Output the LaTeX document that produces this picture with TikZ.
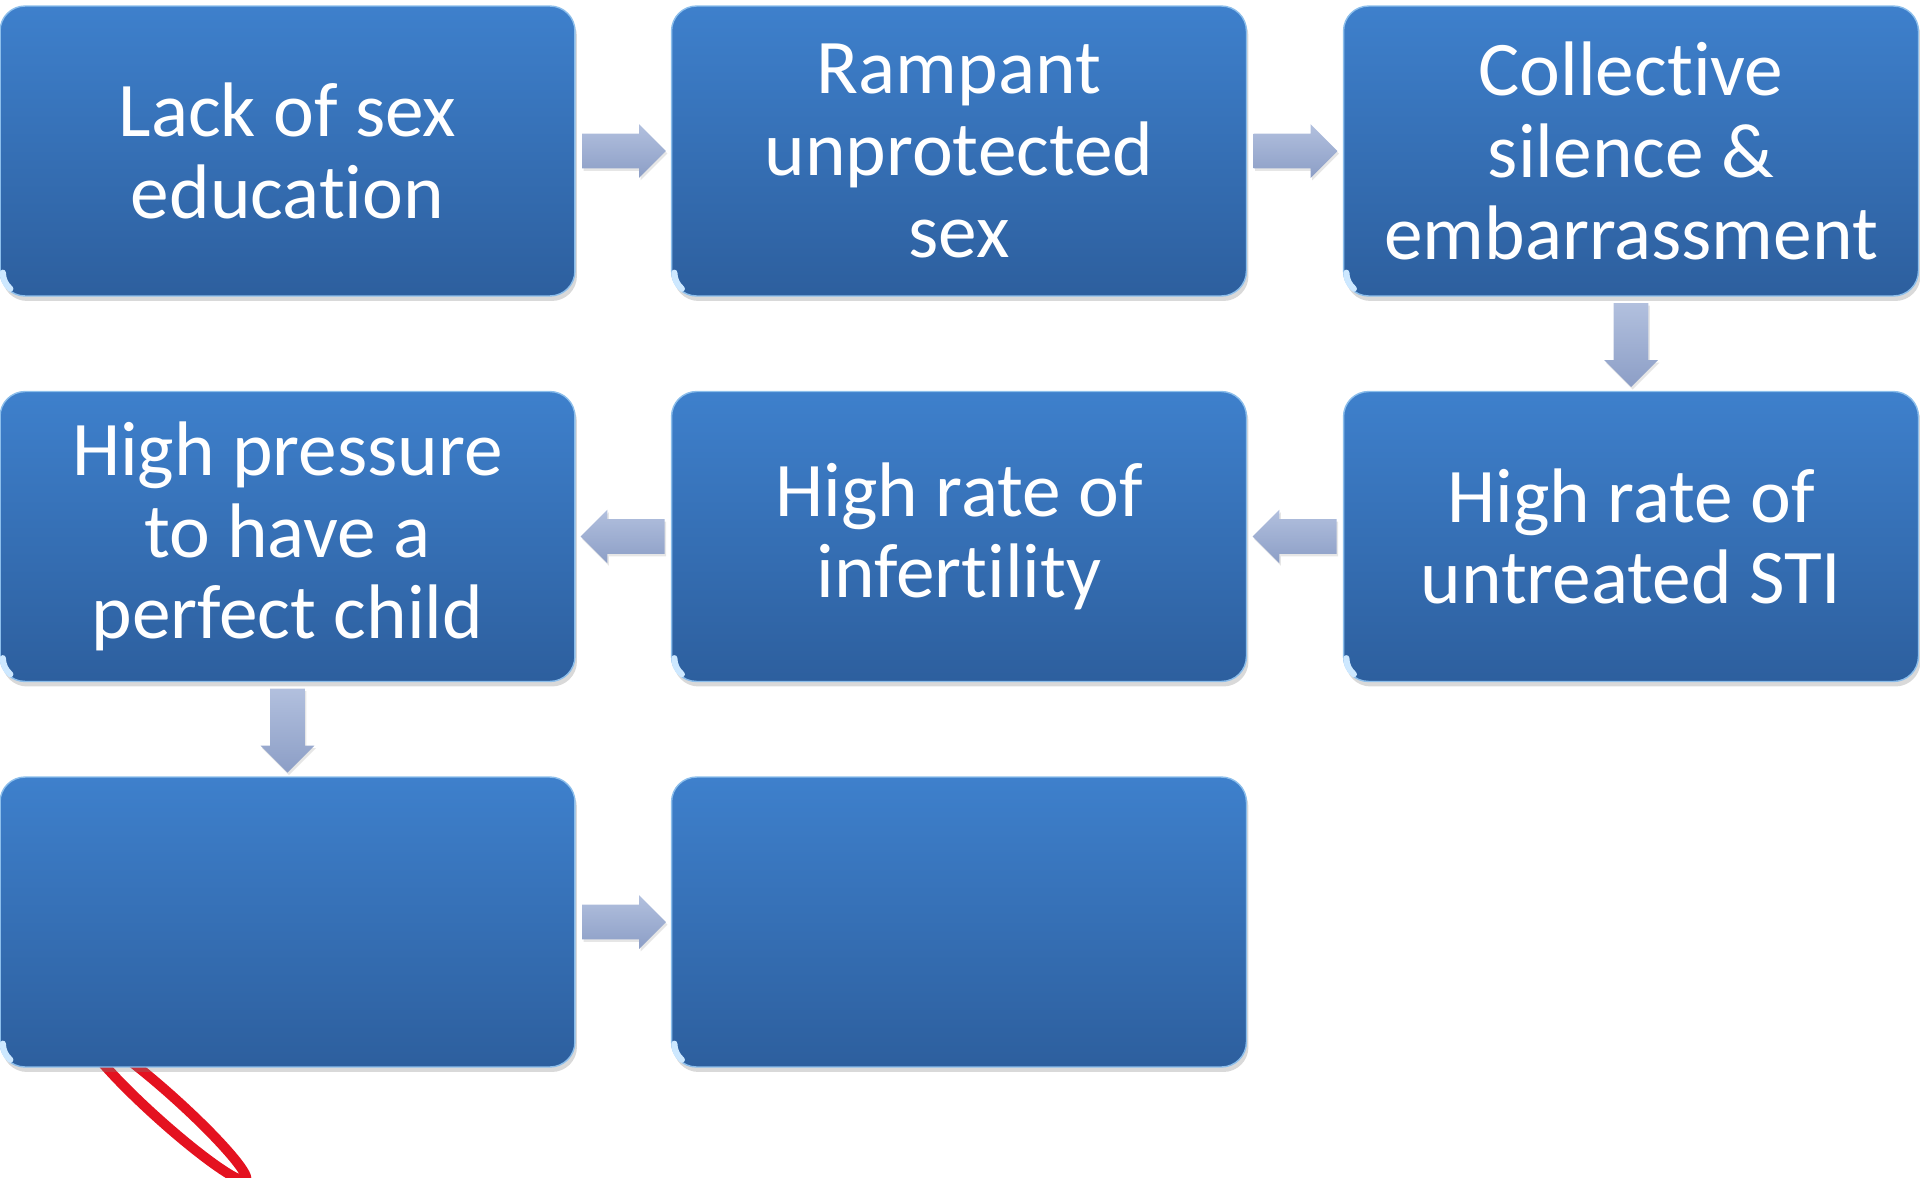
\documentclass[tikz,border=0pt]{standalone}
\usepackage{fontspec}
\setmainfont{Carlito}[Ligatures=NoCommon]
\usetikzlibrary{shapes.arrows,shadows,calc}
\definecolor{boxtop}{RGB}{62,128,204}
\definecolor{boxbot}{RGB}{45,95,158}
\definecolor{boxedge}{RGB}{140,190,235}
\definecolor{glintcol}{RGB}{205,232,255}
\definecolor{arrowtop}{RGB}{178,192,222}
\definecolor{arrowbot}{RGB}{140,158,198}
\definecolor{loopred}{RGB}{228,18,32}
\tikzset{
  flowbox/.style={rectangle, rounded corners=0.5cm, minimum width=11.5cm,
    minimum height=5.8cm, top color=boxtop, bottom color=boxbot,
    draw=boxedge, line width=0.8pt,
    drop shadow={opacity=0.3, shadow xshift=0.04cm, shadow yshift=-0.1cm},
    text=white, align=center, inner sep=0pt,
    font=\fontsize{44}{46.5}\selectfont},
  flowarrow/.style={single arrow, draw=none, top color=arrowtop, bottom color=arrowbot,
    minimum height=1.68cm, minimum width=1.06cm, anchor=tail,
    single arrow head extend=0.19cm, inner xsep=0pt, inner ysep=0.34cm,
    drop shadow={opacity=0.2, shadow xshift=0.03cm, shadow yshift=-0.05cm}},
  glint/.style={draw=glintcol, line width=3.5pt, line cap=round},
  redloop/.style={draw=loopred, line width=0.2cm}
}
\begin{document}
\begin{tikzpicture}[x=0.02cm,y=-0.02cm]
\useasboundingbox (0,0) rectangle (1920,1177);
% red loop (behind boxes)
\draw[redloop] (166,1108) ellipse [x radius=2.15cm, y radius=0.26cm, rotate=-42];
% boxes
\node[flowbox] (b1) at (287.5,151) {Lack of sex\\education};
\node[flowbox] (b2) at (959,151) {Rampant\\unprotected\\sex};
\node[flowbox] (b3) at (1631,151) {Collective\\silence \&\\embarrassment};
\node[flowbox] (b4) at (1631,536.5) {High rate of\\untreated STI};
\node[flowbox] (b5) at (959,536.5) {High rate of\\infertility};
\node[flowbox] (b6) at (287.5,536.5) {High pressure\\to have a\\perfect child};
\node[flowbox] (b7) at (287.5,922) {};
\node[flowbox] (b8) at (959,922) {};
% corner glints
\foreach \b in {b1,b2,b3,b4,b5,b6,b7,b8}
  \draw[glint] ($(\b.south west)+(3.5,-24)$) arc[start angle=180, end angle=230, radius=0.42cm];
% arrows
\node[flowarrow] (a12) at ($(b1.east)+(6,0)$) {};
\node[flowarrow] (a23) at ($(b2.east)+(6,0)$) {};
\node[flowarrow, rotate=-90] (a34) at ($(b3.south)+(0,6)$) {};
\node[flowarrow, rotate=180] (a45) at ($(b4.west)+(-6,0)$) {};
\node[flowarrow, rotate=180] (a56) at ($(b5.west)+(-6,0)$) {};
\node[flowarrow, rotate=-90] (a67) at ($(b6.south)+(0,6)$) {};
\node[flowarrow] (a78) at ($(b7.east)+(6,0)$) {};
\end{tikzpicture}
\end{document}
